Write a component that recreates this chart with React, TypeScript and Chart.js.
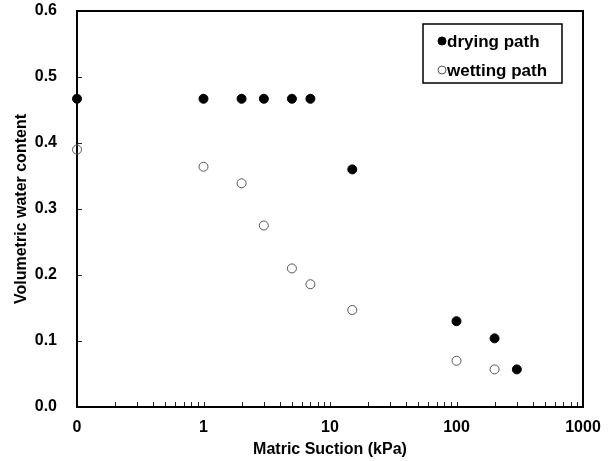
import { useEffect, useRef } from "react";
import { Chart, registerables } from "chart.js";

Chart.register(...registerables);

const dryingX = [0.1, 1, 2, 3, 5, 7, 15, 100, 200, 300];
const dryingY = [0.467, 0.467, 0.467, 0.467, 0.467, 0.467, 0.36, 0.13, 0.104, 0.057];
const wettingX = [0.1, 1, 2, 3, 5, 7, 15, 100, 200];
const wettingY = [0.39, 0.364, 0.339, 0.275, 0.21, 0.186, 0.147, 0.07, 0.057];
const xTickValues = [0.1, 1, 10, 100, 1000];
const xTickLabels = ["0", "1", "10", "100", "1000"];
const yTickValues = [0, 0.1, 0.2, 0.3, 0.4, 0.5, 0.6];
const seriesNames = ["drying path", "wetting path"];
const xTitle = "Matric Suction (kPa)";
const yTitle = "Volumetric water content";

const FONT = "'Liberation Sans', Arial, sans-serif";

const framePlugin = {
  id: "frameTicks",
  beforeDatasetsDraw(chart: any) {
    const { ctx, chartArea } = chart;
    const { left, top, right, bottom } = chartArea;
    const xs = chart.scales.x;
    const ys = chart.scales.y;
    ctx.save();
    ctx.strokeStyle = "#222";
    ctx.lineWidth = 1;
    for (let d = -1; d <= 2; d++) {
      for (let k = 1; k <= 9; k++) {
        const v = k * Math.pow(10, d);
        if (v <= xTickValues[0]) continue;
        const px = Math.round(xs.getPixelForValue(v)) + 0.5;
        ctx.beginPath();
        ctx.moveTo(px, bottom);
        ctx.lineTo(px, bottom - 5);
        ctx.stroke();
      }
    }
    for (const v of yTickValues) {
      const py = Math.round(ys.getPixelForValue(v)) + 0.5;
      ctx.beginPath();
      ctx.moveTo(left, py);
      ctx.lineTo(left + 5, py);
      ctx.stroke();
    }
    ctx.strokeStyle = "#000";
    ctx.lineWidth = 2;
    ctx.strokeRect(left, top, right - left, bottom - top);
    ctx.restore();
  },
  afterDraw(chart: any) {
    const { ctx } = chart;
    ctx.save();
    const bx = 423, by = 24, bw = 139, bh = 59;
    ctx.strokeStyle = "#000";
    ctx.lineWidth = 1.5;
    ctx.strokeRect(bx, by, bw, bh);
    ctx.font = `bold 17px ${FONT}`;
    ctx.textBaseline = "middle";
    chart.data.datasets.forEach((ds: any, i: number) => {
      const cy = by + 17 + i * 29;
      const cx = bx + 19;
      ctx.beginPath();
      ctx.arc(cx, cy, 4, 0, Math.PI * 2);
      ctx.fillStyle = ds.backgroundColor;
      ctx.fill();
      ctx.lineWidth = 1;
      ctx.strokeStyle = ds.borderColor;
      ctx.stroke();
      ctx.fillStyle = "#000";
      ctx.fillText(seriesNames[i], bx + 24, cy + 1);
    });
    ctx.restore();
  },
};

export default function App() {
  const ref = useRef<HTMLCanvasElement | null>(null);
  useEffect(() => {
    if (!ref.current) return;
    const chart = new Chart(ref.current, {
      type: "scatter",
      data: {
        datasets: [
          {
            label: seriesNames[0],
            data: dryingX.map((x, i) => ({ x, y: dryingY[i] })),
            backgroundColor: "#000",
            borderColor: "#000",
            borderWidth: 1,
            pointRadius: 4.5,
            clip: false,
          } as any,
          {
            label: seriesNames[1],
            data: wettingX.map((x, i) => ({ x, y: wettingY[i] })),
            backgroundColor: "rgba(255,255,255,0)",
            borderColor: "#555",
            borderWidth: 1,
            pointRadius: 4.5,
            clip: false,
          } as any,
        ],
      },
      options: {
        animation: false,
        responsive: false,
        layout: { padding: { top: 11, right: 25, left: 0, bottom: 0 } },
        plugins: { legend: { display: false }, tooltip: { enabled: false } },
        scales: {
          x: {
            type: "logarithmic",
            min: 0.1,
            max: 1000,
            position: "bottom",
            afterBuildTicks: (scale: any) => {
              scale.ticks = xTickValues.map((v) => ({ value: v, major: true }));
            },
            afterFit: (scale: any) => {
              scale.height = 54;
              scale.paddingLeft = 0;
              scale.paddingRight = 0;
            },
            grid: { display: false, drawTicks: false },
            border: { display: false },
            ticks: {
              autoSkip: false,
              maxRotation: 0,
              padding: 11,
              color: "#000",
              font: { family: FONT, size: 16, weight: "bold" },
              callback: (v: any) => {
                const idx = xTickValues.findIndex((t) => Math.abs(t - Number(v)) < 1e-9);
                return idx >= 0 ? xTickLabels[idx] : "";
              },
            },
            title: {
              display: true,
              text: xTitle,
              color: "#000",
              font: { family: FONT, size: 16, weight: "bold" },
              padding: { top: 0, bottom: 2 },
            },
          } as any,
          y: {
            type: "linear",
            min: 0,
            max: 0.6,
            afterBuildTicks: (scale: any) => {
              scale.ticks = yTickValues.map((v) => ({ value: v }));
            },
            afterFit: (scale: any) => {
              scale.width = 77;
              scale.paddingTop = 0;
              scale.paddingBottom = 0;
            },
            grid: { display: false, drawTicks: false },
            border: { display: false },
            ticks: {
              padding: 20,
              color: "#000",
              font: { family: FONT, size: 16, weight: "bold" },
              callback: (v: any) => Number(v).toFixed(1),
            },
            title: {
              display: true,
              text: yTitle,
              color: "#000",
              font: { family: FONT, size: 16, weight: "bold" },
              padding: { top: 12, bottom: 0 },
            },
          } as any,
        },
      },
      plugins: [framePlugin],
    });
    return () => chart.destroy();
  }, []);
  return (
    <div style={{ position: "absolute", left: 0, top: 0, width: 608, height: 461, background: "#fff" }}>
      <canvas ref={ref} width={608} height={461} style={{ width: 608, height: 461 }} />
    </div>
  );
}
